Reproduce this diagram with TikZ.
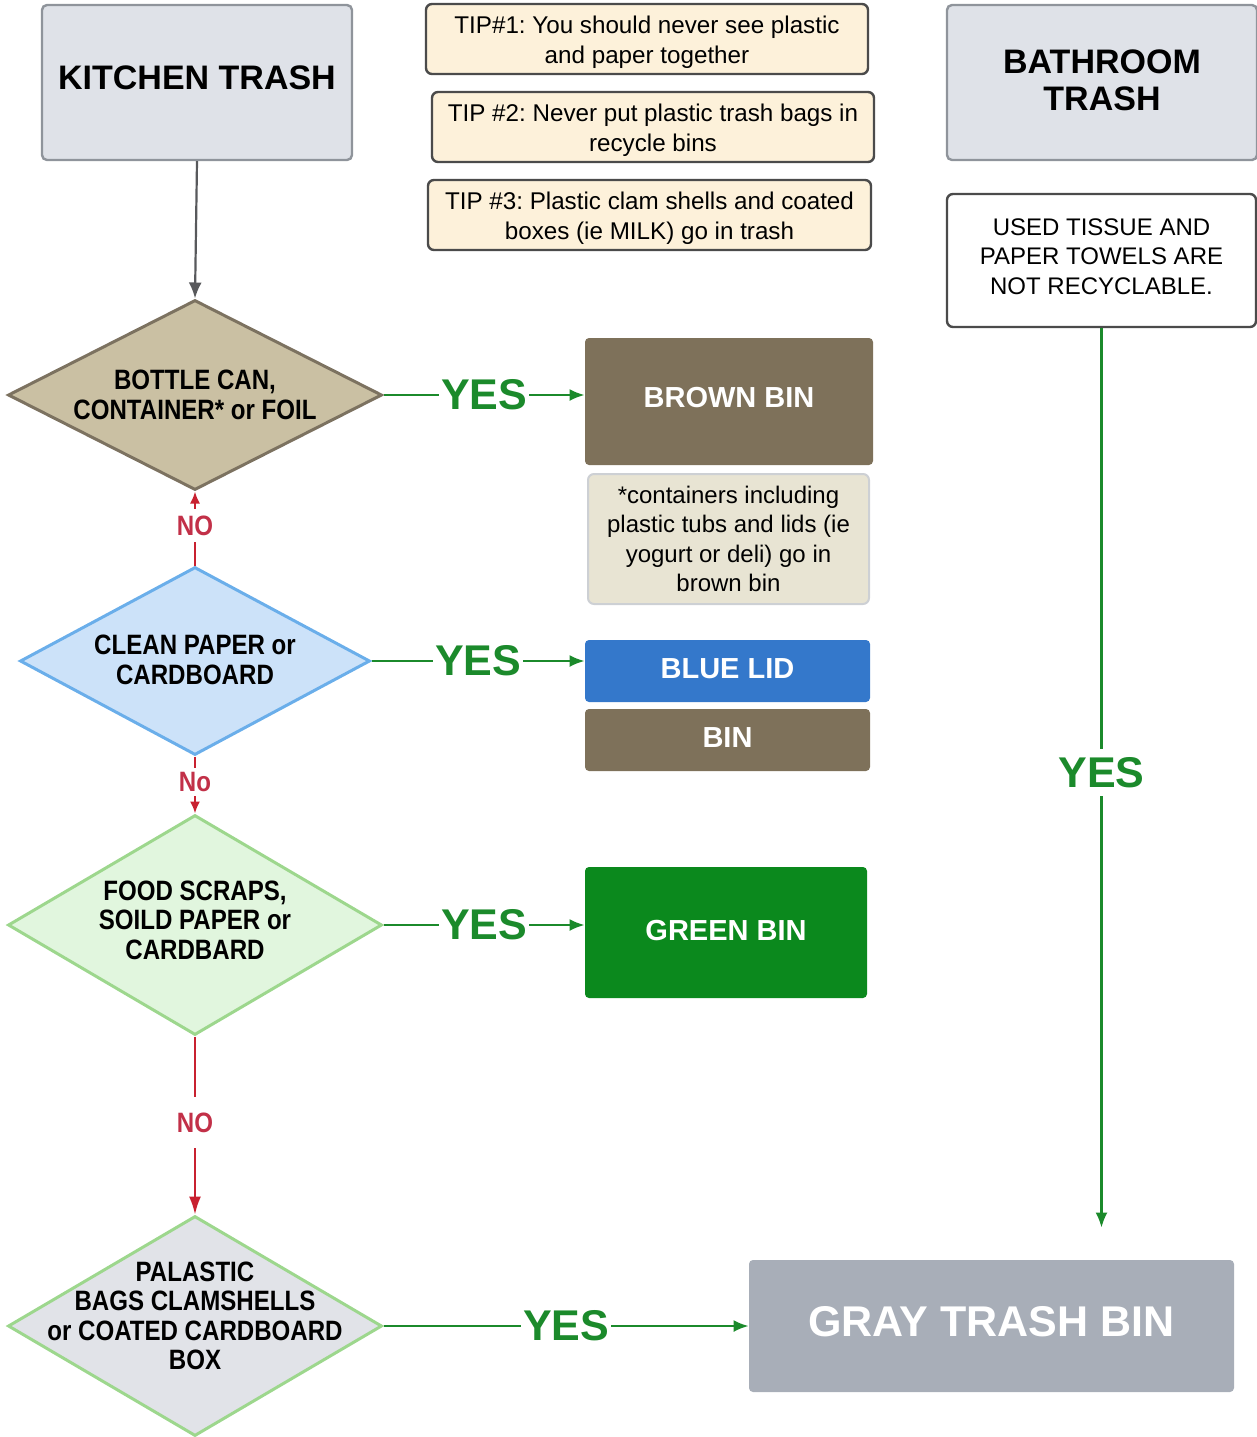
\documentclass[tikz,border=0pt]{standalone}
\usepackage{fontspec}
\usepackage{graphicx}
\setmainfont{Liberation Sans}
\newfontfamily\condensedfont[FakeStretch=0.86]{Liberation Sans}
\usetikzlibrary{shapes.geometric,arrows.meta}
\frenchspacing
\definecolor{srcfill}{HTML}{DFE2E8}
\definecolor{srcborder}{HTML}{8F949B}
\definecolor{tipfill}{HTML}{FDF1DA}
\definecolor{tipborder}{HTML}{4B4B4B}
\definecolor{donefill}{HTML}{CAC0A3}
\definecolor{doneborder}{HTML}{7C7260}
\definecolor{brownbin}{HTML}{7E715A}
\definecolor{notefill}{HTML}{E8E4D3}
\definecolor{noteborder}{HTML}{CDD0D4}
\definecolor{dtwofill}{HTML}{CCE2F9}
\definecolor{dtwoborder}{HTML}{6AAEEA}
\definecolor{bluelid}{HTML}{3478CB}
\definecolor{dthreefill}{HTML}{E1F6DE}
\definecolor{greenborder}{HTML}{9DD78D}
\definecolor{greenbin}{HTML}{0B891D}
\definecolor{dfourfill}{HTML}{E1E3E8}
\definecolor{graybin}{HTML}{A8AEB8}
\definecolor{yesgreen}{HTML}{1B8A2B}
\definecolor{nored}{HTML}{C82130}
\definecolor{notext}{HTML}{C23048}
\definecolor{arrowgray}{HTML}{58595C}
\newcommand{\lowstrut}[1]{\rule[-#1]{0pt}{0pt}}
\newcommand{\highstrut}[1]{\rule{0pt}{#1}}
\begin{document}
\begin{tikzpicture}[x=0.5pt,y=-0.5pt,
  srcbox/.style={draw=srcborder, fill=srcfill, line width=1.2pt, rounded corners=2.5pt,
    minimum width=155pt, minimum height=77.5pt, align=center,
    font=\bfseries\fontsize{17}{18.5}\selectfont},
  tipbox/.style={draw=tipborder, fill=tipfill, line width=1.2pt, rounded corners=3pt,
    minimum width=221pt, minimum height=35pt, inner sep=0pt, align=center,
    font=\fontsize{12.1}{14.75}\selectfont},
  binbox/.style={rounded corners=2pt, text=white, inner sep=0pt,
    font=\bfseries\fontsize{14.5}{17}\selectfont},
  decision/.style={diamond, line width=1.5pt, inner sep=0pt},
  dtext/.style={align=center, inner sep=0pt,
    font=\condensedfont\bfseries\fontsize{14}{14.75}\selectfont},
  yesarrow/.style={draw=yesgreen, line width=1.1pt, -{Latex[length=7.5pt,width=6pt]}},
  yeslbl/.style={fill=white, text=yesgreen, inner xsep=1pt, inner ysep=0pt,
    font=\bfseries\fontsize{21.5}{21.5}\selectfont},
  noarrow/.style={draw=nored, line width=1pt, -{Latex[length=6pt,width=5pt]}},
  nolbl/.style={fill=white, text=notext, inner xsep=1pt, inner ysep=3.5pt, yshift=1.5pt,
    font=\condensedfont\bfseries\fontsize{14}{14}\selectfont}
]
\useasboundingbox (0,0) rectangle (1257,1437);

% source boxes
\node[srcbox] (kitchen) at (197,82.5) {KITCHEN TRASH\lowstrut{5pt}};
\node[srcbox] (bath) at (1102,82.5) {BATHROOM\\TRASH\lowstrut{2pt}};
\node[draw=tipborder, fill=white, line width=1.2pt, rounded corners=3pt,
  minimum width=154.5pt, minimum height=66.5pt, align=center,
  font=\fontsize{12}{14.75}\selectfont] (tissue) at (1101.5,260.5)
  {USED TISSUE AND\\PAPER TOWELS ARE\\NOT RECYCLABLE.\lowstrut{4pt}};

% tips
\node[tipbox] (tip1) at (647,39) {\highstrut{11.8pt}TIP\#1: You should never see plastic\\and paper together};
\node[tipbox] (tip2) at (653,127) {\highstrut{11.8pt}TIP \#2: Never put plastic trash bags in\\recycle bins};
\node[tipbox, minimum width=221.5pt] (tip3) at (649.5,215) {\highstrut{11.8pt}TIP \#3: Plastic clam shells and coated\\boxes (ie MILK) go in trash};

% decisions
\node[decision, draw=doneborder, fill=donefill, minimum width=187pt, minimum height=95pt] (d1) at (195,395) {};
\node[dtext] (d1t) at (195,395) {BOTTLE CAN,\\CONTAINER* or FOIL};
\node[decision, draw=dtwoborder, fill=dtwofill, minimum width=175pt, minimum height=94pt] (d2) at (195,661) {};
\node[dtext] (d2t) at (195,660) {CLEAN PAPER or\\CARDBOARD};
\node[decision, draw=greenborder, fill=dthreefill, minimum width=187pt, minimum height=110pt] (d3) at (195,925) {};
\node[dtext] (d3t) at (195,920) {FOOD SCRAPS,\\SOILD PAPER or\\CARDBARD};
\node[decision, draw=greenborder, fill=dfourfill, minimum width=187pt, minimum height=110pt] (d4) at (195,1326) {};
\node[dtext] (d4t) at (195,1316) {PALASTIC\\BAGS CLAMSHELLS\\or COATED CARDBOARD\\BOX};

% bins
\node[binbox, fill=brownbin, minimum width=144pt, minimum height=63.5pt] (brown) at (729,401.5) {BROWN BIN\lowstrut{4pt}};
\node[draw=noteborder, fill=notefill, line width=1pt, rounded corners=3pt,
  minimum width=140.5pt, minimum height=65pt, inner sep=0pt, align=center,
  font=\fontsize{12}{14.75}\selectfont] (note) at (728.5,539)
  {*containers including\\plastic tubs and lids (ie\\yogurt or deli) go in\\brown bin};
\node[binbox, fill=bluelid, minimum width=142.5pt, minimum height=31pt] (lid) at (727.5,671) {BLUE LID\lowstrut{2pt}};
\node[binbox, fill=brownbin, minimum width=142.5pt, minimum height=31pt] (bin) at (727.5,740) {BIN\lowstrut{2pt}};
\node[binbox, fill=greenbin, minimum width=141pt, minimum height=65.5pt] (green) at (726,932.5) {GREEN BIN\lowstrut{2pt}};
\node[binbox, fill=graybin, minimum width=242.5pt, minimum height=66pt,
  font=\bfseries\fontsize{21.5}{21.5}\selectfont] (gray) at (991.5,1326) {GRAY TRASH BIN\lowstrut{5pt}};

% connectors
\draw[draw=arrowgray, line width=1.1pt, -{Latex[length=8pt,width=6.5pt]}] (kitchen.south) -- (d1.north);
\draw[yesarrow] (d1.east) -- node[yeslbl] {YES} (d1.east -| brown.west);
\draw[yesarrow] (d2.east) -- node[yeslbl] {YES} (d2.east -| lid.west);
\draw[yesarrow] (d3.east) -- node[yeslbl] {YES} (d3.east -| green.west);
\draw[yesarrow] (d4.east) -- node[yeslbl] {YES} (gray.west);
\draw[yesarrow, shorten >=16pt] (tissue.south) -- node[yeslbl, pos=0.477, inner ysep=4pt] {YES} (gray.north -| tissue.south);
\draw[noarrow] (d2.north) -- node[nolbl] {NO} (d1.south);
\draw[noarrow] (d2.south) -- node[nolbl, inner ysep=2pt] {No} (d3.north);
\draw[noarrow, -{Latex[length=9pt,width=6pt]}] (d3.south) -- node[nolbl, inner ysep=8pt] {NO} (d4.north);
\end{tikzpicture}
\end{document}
